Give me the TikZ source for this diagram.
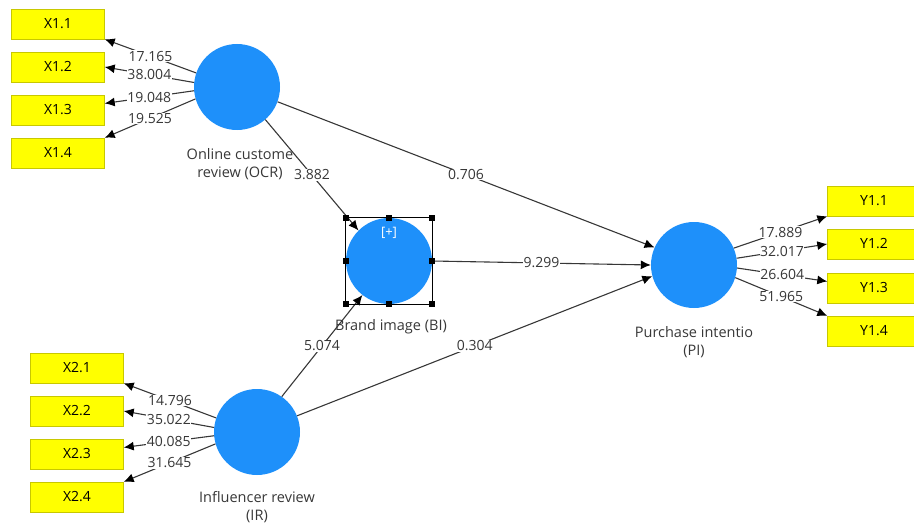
\documentclass[tikz,border=0pt]{standalone}
\usepackage{fontspec}
\setmainfont{Open Sans}
\usetikzlibrary{arrows.meta}

\definecolor{lvblue}{RGB}{30,144,250}
\definecolor{mvyellow}{RGB}{255,255,0}
\definecolor{mvborder}{RGB}{200,200,0}
\definecolor{linkgray}{RGB}{55,55,55}

\begin{document}
\begin{tikzpicture}[x=1pt, y=-1pt,
    indicator/.style={draw=mvborder, fill=mvyellow, minimum width=93pt, minimum height=30pt, inner sep=0pt, font=\fontsize{14}{16}\selectfont},
    construct/.style={circle, fill=lvblue, minimum size=86pt, inner sep=0pt},
    caption/.style={align=center, text=linkgray, font=\fontsize{14.5}{18}\selectfont},
    weight/.style={fill=white, inner sep=0.5pt, text=linkgray, font=\fontsize{14}{16}\selectfont},
    link/.style={draw=linkgray, line width=1.1pt, -{Latex[length=10pt,width=9pt,color=black]}},
    handle/.style={fill=black, minimum size=5.5pt, inner sep=0pt}
]
                \useasboundingbox (0,0) rectangle (914,527);

                % Draw constructs
                \node[construct] (ocr) at (237,87) {};
                \node[construct] (bi) at (389,261) {};
                \node[construct] (pi) at (694,265) {};
                \node[construct] (ir) at (257,432) {};

                % Construct captions
                \node[caption] (ocrcap) at (240,164) {Online custome\\review (OCR)};
                \node[caption] (bicap) at (391,327) {Brand image (BI)};
                \node[caption] (picap) at (694,342) {Purchase intentio\\(PI)};
                \node[caption] (ircap) at (257,507) {Influencer review\\(IR)};

                % Draw indicators
                \node[indicator] (x11) at (58,24) {X1.1};
                \node[indicator] (x12) at (58,67) {X1.2};
                \node[indicator] (x13) at (58,110) {X1.3};
                \node[indicator] (x14) at (58,153) {X1.4};

                \node[indicator] (x21) at (77,368) {X2.1};
                \node[indicator] (x22) at (77,411) {X2.2};
                \node[indicator] (x23) at (77,454) {X2.3};
                \node[indicator] (x24) at (77,497) {X2.4};

                \node[indicator] (y11) at (874,201) {Y1.1};
                \node[indicator] (y12) at (874,244) {Y1.2};
                \node[indicator] (y13) at (874,288) {Y1.3};
                \node[indicator] (y14) at (874,331) {Y1.4};

                % Outer loadings
                \draw[link] (ocr.161) -- (x11.south east) node[weight, midway] (w11) {17.165};
                \draw[link] (ocr.174) -- (x12.east) node[weight, midway] (w12) {38.004};
                \draw[link] (ocr.185) -- (x13.8) node[weight, midway] (w13) {19.048};
                \draw[link] (ocr.196) -- (x14.north east) node[weight, midway] (w14) {19.525};

                \draw[link] (ir.161) -- (x21.south east) node[weight, midway] (w21) {14.796};
                \draw[link] (ir.174) -- (x22.east) node[weight, midway] (w22) {35.022};
                \draw[link] (ir.185) -- (x23.8) node[weight, midway] (w23) {40.085};
                \draw[link] (ir.196) -- (x24.north east) node[weight, midway] (w24) {31.645};

                \draw[link] (pi.23) -- (y11.south west) node[weight, midway] (v11) {17.889};
                \draw[link] (pi.9) -- (y12.west) node[weight, midway] (v12) {32.017};
                \draw[link] (pi.-4) -- (y13.172) node[weight, midway] (v13) {26.604};
                \draw[link] (pi.-17) -- (y14.north west) node[weight, midway] (v14) {51.965};

                % Inner paths
                \draw[link] (ocr.-20) -- (pi.156) node[weight, midway] (p1) {0.706};
                \draw[link] (ocr.-49) -- (bi.135) node[weight, midway] (p2) {3.882};
                \draw[link] (bi.east) -- (pi.180) node[weight, midway] (p3) {9.299};
                \draw[link] (ir.55) -- (bi.232) node[weight, midway] (p4) {5.074};
                \draw[link] (ir.22) -- (pi.195) node[weight, midway] (p5) {0.304};

                % Selection frame
                \node[text=white, font=\fontsize{13}{15}\selectfont] (biplus) at (389,233) {[+]};
                \draw[line width=0.9pt] (bi.west |- bi.north) rectangle (bi.east |- bi.south);
                \node[handle] (h1) at (bi.west |- bi.north) {};
                \node[handle] (h2) at (bi.north) {};
                \node[handle] (h3) at (bi.east |- bi.north) {};
                \node[handle] (h4) at (bi.west) {};
                \node[handle] (h5) at (bi.east) {};
                \node[handle] (h6) at (bi.west |- bi.south) {};
                \node[handle] (h7) at (bi.south) {};
                \node[handle] (h8) at (bi.east |- bi.south) {};

\end{tikzpicture}
\end{document}
